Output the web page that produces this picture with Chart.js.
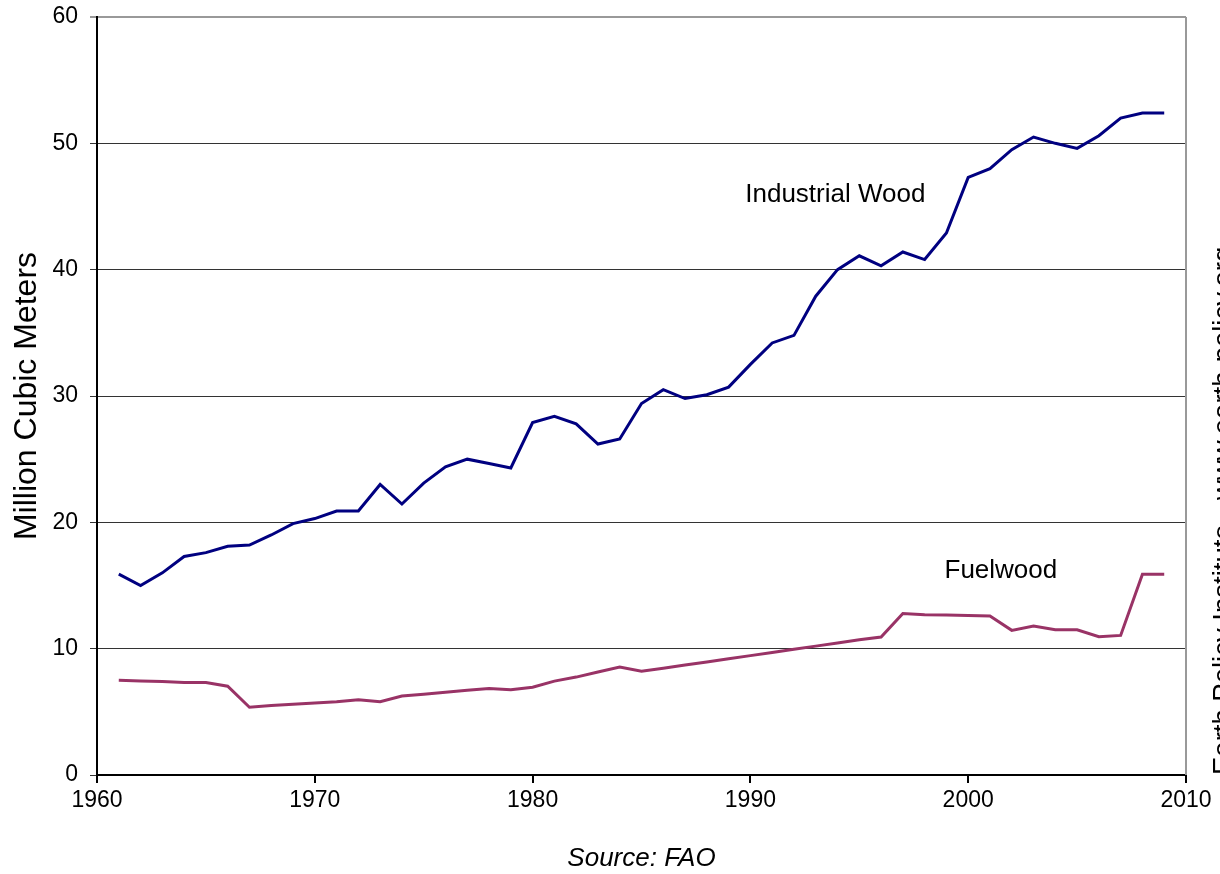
<!DOCTYPE html>
<html lang="en">
<head>
<meta charset="UTF-8">
<title>Wood Harvest</title>
<script src="https://cdn.jsdelivr.net/npm/chart.js"></script>
<style>
  html, body { margin: 0; padding: 0; background: #fff; overflow: hidden; }
</style>
</head>
<body>
<canvas id="woodChart" width="1220" height="874"></canvas>
<script>
// values (million cubic meters)
const years = [1961,1962,1963,1964,1965,1966,1967,1968,1969,1970,
               1971,1972,1973,1974,1975,1976,1977,1978,1979,1980,
               1981,1982,1983,1984,1985,1986,1987,1988,1989,1990,
               1991,1992,1993,1994,1995,1996,1997,1998,1999,2000,
               2001,2002,2003,2004,2005,2006,2007,2008,2009];
const industrialWood = [15.9,15.0,16.0,17.3,17.6,18.1,18.2,19.0,19.9,20.3,
                        20.9,20.9,23.0,21.45,23.1,24.4,25.0,24.65,24.3,27.9,
                        28.4,27.8,26.2,26.6,29.4,30.5,29.8,30.1,30.7,32.5,
                        34.2,34.8,37.9,40.0,41.1,40.3,41.4,40.8,42.9,47.3,
                        48.0,49.5,50.5,50.0,49.6,50.6,52.0,52.4,52.4];
const fuelwood = [7.5,7.45,7.4,7.32,7.32,7.03,5.36,5.5,5.6,5.7,
                  5.8,5.95,5.8,6.25,6.4,6.55,6.7,6.84,6.74,6.95,
                  7.43,7.75,8.15,8.55,8.22,8.45,8.7,8.95,9.2,9.45,
                  9.7,9.95,10.2,10.45,10.7,10.92,12.79,12.68,12.66,12.63,
                  12.58,11.45,11.8,11.5,11.5,10.95,11.05,15.9,15.9];
const xTicks = [1960, 1970, 1980, 1990, 2000, 2010];
const yTicks = [0, 10, 20, 30, 40, 50, 60];

const FONT = '"Liberation Sans", Arial, sans-serif';

// series names written next to the lines, plus the frame and side credit
const labelsPlugin = {
  id: 'labels',
  afterDraw(chart) {
    const { ctx, chartArea, scales } = chart;
    ctx.save();
    // right frame line
    ctx.strokeStyle = '#999';
    ctx.lineWidth = 2;
    ctx.beginPath();
    ctx.moveTo(chartArea.right, chartArea.top);
    ctx.lineTo(chartArea.right, chartArea.bottom);
    ctx.stroke();

    ctx.fillStyle = '#000';
    ctx.font = '26px ' + FONT;
    ctx.textAlign = 'center';
    ctx.textBaseline = 'middle';
    ctx.fillText('Industrial Wood', scales.x.getPixelForValue(1993.9), scales.y.getPixelForValue(45.9));
    ctx.fillText('Fuelwood', scales.x.getPixelForValue(2001.5), scales.y.getPixelForValue(16.2));

    // side credit, cut by the page edge like the original
    ctx.font = '27.5px ' + FONT;
    ctx.translate(1232, chartArea.bottom);
    ctx.rotate(-Math.PI / 2);
    ctx.textAlign = 'left';
    ctx.textBaseline = 'alphabetic';
    ctx.fillText('Earth Policy Institute - www.earth-policy.org', 0, 0);
    ctx.restore();
  }
};

new Chart(document.getElementById('woodChart'), {
  type: 'line',
  data: {
    datasets: [
      {
        label: 'Industrial Wood',
        data: years.map((yr, i) => ({ x: yr, y: industrialWood[i] })),
        borderColor: '#000080',
        borderWidth: 3,
        pointRadius: 0,
        tension: 0,
        fill: false
      },
      {
        label: 'Fuelwood',
        data: years.map((yr, i) => ({ x: yr, y: fuelwood[i] })),
        borderColor: '#993366',
        borderWidth: 3,
        pointRadius: 0,
        tension: 0,
        fill: false
      }
    ]
  },
  options: {
    responsive: false,
    animation: false,
    devicePixelRatio: 1,
    layout: { padding: { top: 17, right: 34, bottom: 0, left: 0 } },
    plugins: {
      legend: { display: false },
      tooltip: { enabled: false }
    },
    scales: {
      x: {
        type: 'linear',
        min: 1960,
        max: 2010,
        afterBuildTicks: (scale) => { scale.ticks = xTicks.map(v => ({ value: v })); },
        afterFit: (scale) => { scale.height = 99; },
        ticks: {
          color: '#000',
          font: { family: FONT, size: 23 },
          padding: 4,
          maxRotation: 0,
          callback: (v) => String(v)
        },
        grid: { drawOnChartArea: false, tickLength: 8, color: '#000', lineWidth: 2 },
        border: { color: '#000', width: 2 },
        title: {
          display: true,
          text: 'Source: FAO',
          color: '#000',
          font: { family: FONT, size: 26, style: 'italic' },
          padding: { top: 26, bottom: 0 }
        }
      },
      y: {
        min: 0,
        max: 60,
        afterBuildTicks: (scale) => { scale.ticks = yTicks.map(v => ({ value: v })); },
        afterFit: (scale) => {
          scale.width = 97;
          scale.paddingTop = 0;
          scale.paddingBottom = 0;
        },
        ticks: {
          color: '#000',
          font: { family: FONT, size: 23 },
          padding: 12
        },
        grid: {
          tickLength: 7,
          color: (c) => (c.tick && c.tick.value === 60 ? '#999' : '#333'),
          lineWidth: (c) => (c.tick && c.tick.value === 60 ? 2 : 1)
        },
        border: { color: '#000', width: 2 },
        title: {
          display: true,
          text: 'Million Cubic Meters',
          color: '#000',
          font: { family: FONT, size: 32 },
          padding: { top: 8, bottom: 0 }
        }
      }
    }
  },
  plugins: [labelsPlugin]
});
</script>
</body>
</html>
